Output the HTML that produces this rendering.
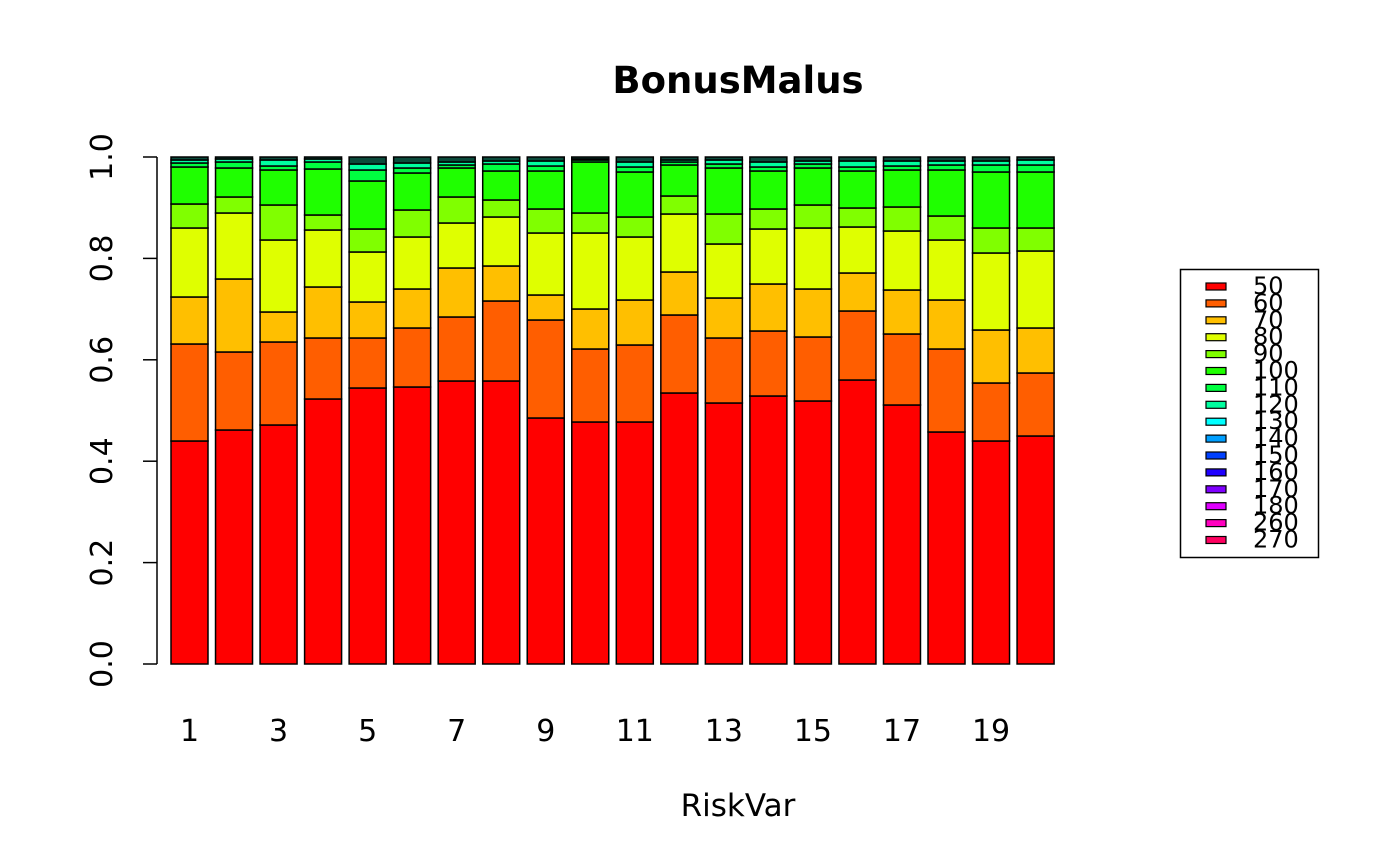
<!DOCTYPE html>
<html><head><style>body{margin:0;background:#fff}svg{display:block}text{font-family:"DejaVu Sans","Liberation Sans",sans-serif}</style></head>
<body>
<svg id="s" width="1400" height="866" xmlns="http://www.w3.org/2000/svg">
<text x="738" y="93" font-size="37" font-weight="bold" text-anchor="middle">BonusMalus</text>
<text x="738" y="816" font-size="31" text-anchor="middle">RiskVar</text>
<line x1="157" y1="157" x2="157" y2="664" stroke="#000" stroke-width="1.5"/>
<g id="g"></g>
<rect x="1180.5" y="269.5" width="138" height="288" fill="none" stroke="#000" stroke-width="1.5"/>
</svg>
<script>
var cols=["#FF0000","#FF5E00","#FFBF00","#DFFF00","#80FF00","#1FFF00","#00FF40","#00FF9F","#00FFFF","#009FFF","#0040FF","#1F00FF","#7F00FF","#DF00FF","#FF00BF","#FF0060"];
var labs=["50","60","70","80","90","100","110","120","130","140","150","160","170","180","260","270"];
var B=[[441,344,297,228,204,167,163,160],[430,352,279,213,197,168,162,159],[425,342,312,240,205,170,166,160],[399,338,287,230,215,169,162,159],[388,338,302,252,229,181,170,164],[387,328,289,237,210,173,168,163],[381,317,268,223,197,168,165,162],[381,301,266,217,200,171,164,161],[418,320,295,233,209,171,166,161],[422,349,309,233,213,162,160,159],[422,345,300,237,217,172,167,162],[393,315,272,214,196,165,162,160],[403,338,298,244,214,168,164,160],[396,331,284,229,209,171,167,162],[401,337,289,228,205,168,164,161],[380,311,273,227,208,171,167,161],[405,334,290,231,207,170,166,161],[432,349,300,240,216,170,165,161],[441,383,330,253,228,172,165,161],[436,373,328,251,228,172,165,160]];
var h="";
for(var i=0;i<20;i++){var x=171+i*44.53,prev=664;
 for(var k=0;k<8;k++){var y=B[i][k];h+='<rect x="'+x+'" y="'+y+'" width="37" height="'+(prev-y)+'" fill="'+cols[k]+'" stroke="#000" stroke-width="1.5"/>';prev=y;}
 h+='<rect x="'+x+'" y="157" width="37" height="'+(prev-157)+'" fill="#0a4a3a" stroke="#000" stroke-width="1.5"/>';
 if(i%2==0)h+='<text x="'+(x+18.5)+'" y="741" font-size="30" text-anchor="middle">'+(i+1)+'</text>';}
for(var t=0;t<=5;t++){var y=664-t*101.4;h+='<line x1="143" y1="'+y+'" x2="157" y2="'+y+'" stroke="#000" stroke-width="1.5"/>';
 h+='<text transform="translate(112,'+y+') rotate(-90)" font-size="30" text-anchor="middle">'+(t*0.2).toFixed(1)+'</text>';}
for(var r=0;r<16;r++){var y=286+r*16.9;h+='<rect x="1206" y="'+(y-3)+'" width="20" height="7" fill="'+cols[r]+'" stroke="#000" stroke-width="1.2"/>';
 h+='<text x="1253" y="'+(y+8)+'" font-size="24">'+labs[r]+'</text>';}
document.getElementById("g").innerHTML=h;
</script>
</body></html>
